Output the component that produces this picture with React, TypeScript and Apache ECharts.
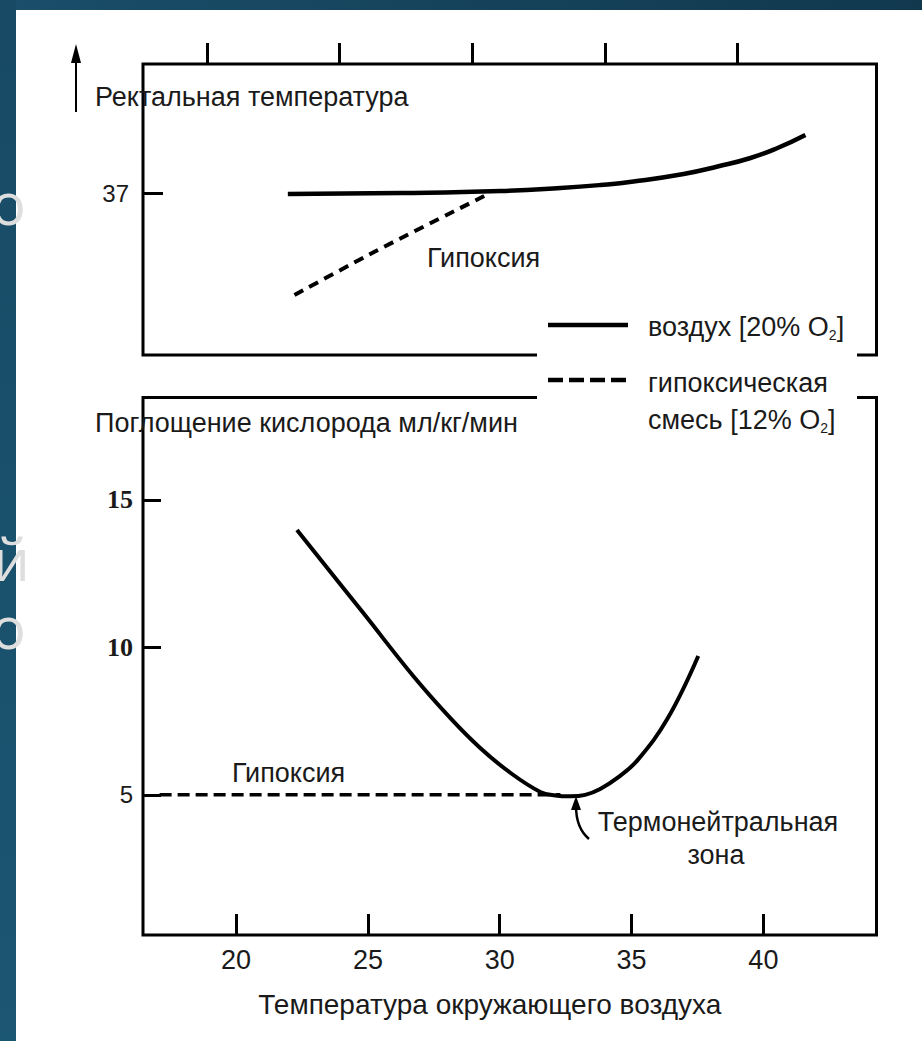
import React, { useEffect, useRef } from "react";
import * as echarts from "echarts";

// ---- data ----
const xTicks = [20, 25, 30, 35, 40];
const tempTicks = [37];
const o2Ticks = [5, 10, 15];

// Upper panel: rectal temperature
const airTempX = [23.05, 27.31, 31.07, 33.33, 34.84, 36.08, 37.97, 39.25, 40.49, 41.51, 42.56];
const airTempY = [36.98, 37.0, 37.04, 37.1, 37.16, 37.23, 37.38, 37.53, 37.7, 37.9, 38.16];
const hypoxTempX = [23.3, 26.3, 30.6];
const hypoxTempY = [34.96, 35.82, 36.98];

// Lower panel: oxygen consumption, ml/kg/min
const airO2X = [22.31, 24.82, 26.72, 28.12, 29.26, 30.4, 31.54, 32.11, 32.68, 33.24, 33.81, 34.5, 35.22, 36.36, 37.53];
const airO2Y = [13.98, 11.17, 9.03, 7.61, 6.59, 5.75, 5.1, 4.98, 4.95, 5.0, 5.2, 5.6, 6.17, 7.58, 9.71];
const hypoxO2X = [17.1, 32.3];
const hypoxO2Y = [5, 5];

const FONT = "'Liberation Sans', Arial, sans-serif";
const SERIF = "'Liberation Serif', 'Times New Roman', serif";
const SLIDE = "'Open Sans', 'Noto Sans', sans-serif";
const INK = "#1a1a1a";

const zip = (xs: number[], ys: number[]) => xs.map((x, i) => [x, ys[i]]);

function txt(text: string, x: number, y: number, size = 27, align = "left", extra: any = {}) {
  return {
    type: "text",
    x,
    y,
    z: 12,
    style: {
      text,
      fill: INK,
      fontSize: size,
      fontFamily: FONT,
      align,
      verticalAlign: "middle",
      ...extra,
    },
  };
}

export default function App() {
  const ref = useRef<HTMLDivElement>(null);

  useEffect(() => {
    if (!ref.current) return;
    const chart = echarts.init(ref.current, undefined, { renderer: "svg" });

    const dark = new echarts.graphic.LinearGradient(0, 0, 1, 0, [
      { offset: 0, color: "#1a4e6a" },
      { offset: 1, color: "#11384d" },
    ]);
    const darkV = new echarts.graphic.LinearGradient(0, 0, 0, 1, [
      { offset: 0, color: "#184a65" },
      { offset: 1, color: "#1b5672" },
    ]);

    const subRich = {
      a: { fontSize: 27, fontFamily: FONT, fill: INK, lineHeight: 30, verticalAlign: "middle" },
      s: { fontSize: 14, fontFamily: FONT, fill: INK, lineHeight: 14, verticalAlign: "bottom" },
    };

    const slideText = (t: string, x: number, y: number) => ({
      type: "text", z: -4, x, y,
      style: { text: t, fill: "#dedede", fontSize: 58, lineHeight: 58, fontFamily: SLIDE, verticalAlign: "middle" },
    });

    const option: any = {
      animation: false,
      backgroundColor: "#ffffff",
      grid: [
        {
          left: 143, top: 64, width: 733.5, height: 291,
          show: true, borderColor: "#000", borderWidth: 3, backgroundColor: "transparent",
          containLabel: false, outerBoundsMode: "none",
        },
        {
          left: 143, top: 397.5, width: 733.5, height: 537.5,
          show: true, borderColor: "#000", borderWidth: 3, backgroundColor: "transparent",
          containLabel: false, outerBoundsMode: "none",
        },
      ],
      xAxis: [
        {
          gridIndex: 0, type: "value", position: "top", min: 17.59, max: 45.24,
          axisLine: { show: false }, splitLine: { show: false },
          axisLabel: { show: false },
          axisTick: { show: true, inside: false, length: 21, lineStyle: { color: "#000", width: 3 }, customValues: xTicks },
        },
        {
          gridIndex: 1, type: "value", position: "bottom", min: 16.47, max: 44.29,
          axisLine: { show: false }, splitLine: { show: false },
          axisTick: { show: true, inside: true, length: 21, lineStyle: { color: "#000", width: 3 }, customValues: xTicks },
          axisLabel: { customValues: xTicks, margin: 11, fontSize: 27, fontFamily: FONT, color: INK },
          name: "Температура окружающего воздуха",
          nameLocation: "middle",
          nameGap: 55,
          nameTextStyle: { fontSize: 28, fontFamily: FONT, color: INK, padding: [0, 40, 0, 0] },
        },
      ],
      yAxis: [
        {
          gridIndex: 0, type: "value", min: 33.76, max: 39.58,
          axisLine: { show: false }, splitLine: { show: false },
          axisTick: { show: true, inside: true, length: 20, lineStyle: { color: "#000", width: 3 }, customValues: tempTicks },
          axisLabel: { customValues: tempTicks, margin: 14, fontSize: 24, fontFamily: FONT, color: INK },
        },
        {
          gridIndex: 1, type: "value", min: 0.25, max: 18.47,
          axisLine: { show: false }, splitLine: { show: false },
          axisTick: { show: true, inside: true, length: 18, lineStyle: { color: "#000", width: 3 }, customValues: o2Ticks },
          axisLabel: {
            customValues: o2Ticks, margin: 10,
            formatter: (v: number) => (v === 5 ? `{s|${v}}` : `{b|${v}}`),
            rich: {
              s: { fontFamily: FONT, fontSize: 24, color: INK },
              b: { fontFamily: SERIF, fontWeight: "bold", fontSize: 26, color: INK },
            },
          },
        },
      ],
      series: [
        {
          name: "воздух [20% O2]", type: "line", xAxisIndex: 0, yAxisIndex: 0,
          data: zip(airTempX, airTempY), smooth: 0.5, showSymbol: false, symbol: "none",
          lineStyle: { color: "#000", width: 4.5 },
        },
        {
          name: "гипоксическая смесь [12% O2]", type: "line", xAxisIndex: 0, yAxisIndex: 0,
          data: zip(hypoxTempX, hypoxTempY), smooth: 0.2, showSymbol: false, symbol: "none",
          lineStyle: { color: "#000", width: 4, type: [10, 7] },
        },
        {
          name: "воздух [20% O2]", type: "line", xAxisIndex: 1, yAxisIndex: 1,
          data: zip(airO2X, airO2Y), smooth: 0.4, showSymbol: false, symbol: "none",
          lineStyle: { color: "#000", width: 4 },
        },
        {
          name: "гипоксическая смесь [12% O2]", type: "line", xAxisIndex: 1, yAxisIndex: 1,
          data: zip(hypoxO2X, hypoxO2Y), showSymbol: false, symbol: "none",
          lineStyle: { color: "#000", width: 3.5, type: [12, 6] },
        },
      ],
      graphic: [
        // slide background strips
        { type: "rect", z: -5, shape: { x: 0, y: 0, width: 922, height: 10 }, style: { fill: dark } },
        { type: "rect", z: -5, shape: { x: 0, y: 0, width: 16, height: 1041 }, style: { fill: darkV } },
        // fragments of slide text behind the picture
        slideText("о", -9, 202),
        slideText("й", -7, 558),
        slideText("о", -9, 626),
        // vertical arrow at top-left
        { type: "line", z: 12, shape: { x1: 76, y1: 112, x2: 76, y2: 58 }, style: { stroke: "#000", lineWidth: 2 } },
        { type: "polygon", z: 12, shape: { points: [[76, 44], [71, 63], [81, 63]] }, style: { fill: "#000" } },
        // axis titles
        txt("Ректальная температура", 95, 97),
        txt("Поглощение кислорода мл/кг/мин", 95, 423),
        // annotations
        txt("Гипоксия", 427, 258),
        txt("Гипоксия", 232, 773),
        txt("Термонейтральная", 718, 822, 27, "center"),
        txt("зона", 716, 855, 27, "center"),
        { type: "bezierCurve", z: 12, shape: { x1: 589, y1: 839, cpx1: 576, cpy1: 828, x2: 576, y2: 806 }, style: { stroke: "#000", lineWidth: 2.5, fill: "none" } },
        { type: "polygon", z: 12, shape: { points: [[576, 796], [571, 810], [581, 810]] }, style: { fill: "#000" } },
        // white gap between the panels for the legend
        { type: "rect", z: 10, shape: { x: 537, y: 350, width: 320, height: 53 }, style: { fill: "#ffffff" } },
        // legend
        { type: "line", z: 12, shape: { x1: 548, y1: 325, x2: 628, y2: 325 }, style: { stroke: "#000", lineWidth: 4.5 } },
        { type: "line", z: 12, shape: { x1: 548, y1: 380, x2: 628, y2: 380 }, style: { stroke: "#000", lineWidth: 4.5, lineDash: [15, 6] } },
        { type: "text", z: 12, x: 648, y: 327, style: { text: "{a|воздух [20% O}{s|2}{a|]}", rich: subRich, verticalAlign: "middle" } },
        txt("гипоксическая", 648, 383),
        { type: "text", z: 12, x: 648, y: 420, style: { text: "{a|смесь [12% O}{s|2}{a|]}", rich: subRich, verticalAlign: "middle" } },
      ],
    };

    chart.setOption(option);
    return () => chart.dispose();
  }, []);

  return (
    <div
      ref={ref}
      style={{ position: "absolute", left: 0, top: 0, width: 922, height: 1041 }}
    />
  );
}
